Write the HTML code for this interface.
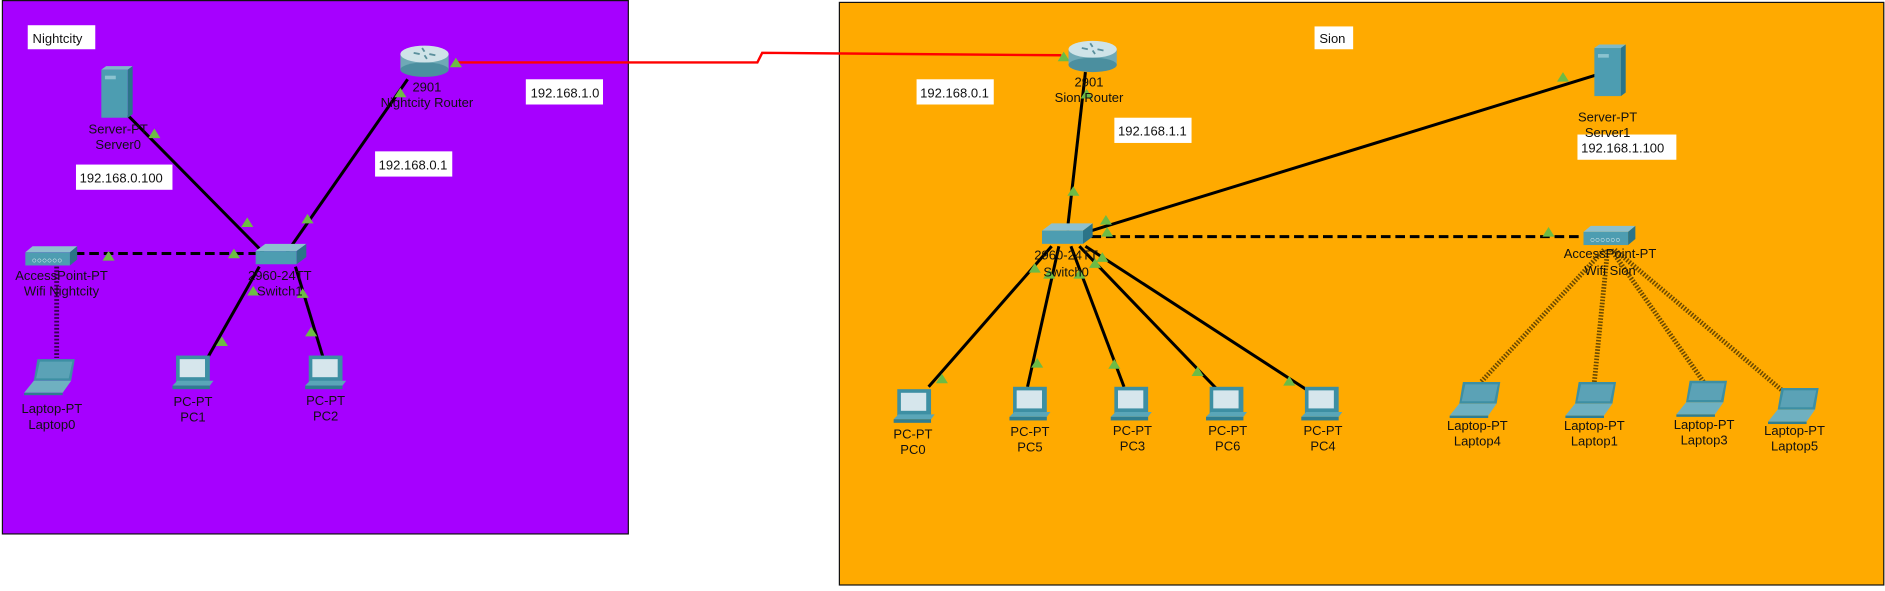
<!DOCTYPE html>
<html><head><meta charset="utf-8"><style>
html,body{margin:0;padding:0;background:#fff;}
svg{display:block;}
text{font-family:"Liberation Sans",Arial,sans-serif;font-size:10.8px;fill:#111;}
</style></head><body>
<svg width="1885" height="591" viewBox="0 0 1563 492" preserveAspectRatio="none" xmlns="http://www.w3.org/2000/svg">
<defs>
<g id="tri"><polygon points="0,-5 5,3 -5,3" fill="#6dbb45"/></g>
<g id="pc">
 <rect x="-14" y="-15" width="28" height="22" fill="#3d8fa3"/>
 <rect x="-11" y="-12" width="21" height="15" fill="#d6e6ec"/>
 <polygon points="-17,10 14,10 17,6 -13,6" fill="#5aa6b8"/>
 <rect x="-17" y="10" width="31" height="3" fill="#2f7d90"/>
</g>
<g id="laptop">
 <polygon points="-11,-16 20,-16 17,2 -14,2" fill="#3d8fa3"/>
 <polygon points="-9,-14 18,-14 15,0 -12,0" fill="#5ba2b6"/>
 <polygon points="-14,2 17,2 10,12 -22,12" fill="#6fb0c0"/>
 <rect x="-22" y="12" width="32" height="2" fill="#2f7d90"/>
</g>
<g id="server">
 <polygon points="-12,-20 10,-20 14,-23 -8,-23" fill="#7fb9c8"/>
 <rect x="-12" y="-20" width="22" height="40" fill="#4d9db1"/>
 <polygon points="10,-20 14,-23 14,17 10,20" fill="#2b7488"/>
 <rect x="-9" y="-15" width="9" height="3" fill="#8cc3d0"/>
</g>
<g id="switch">
 <polygon points="-20,-4 -12,-10 22,-10 14,-4" fill="#8ec0cf"/>
 <rect x="-20" y="-4" width="34" height="11" fill="#4d9db1"/>
 <polygon points="14,-4 22,-10 22,1 14,7" fill="#2b7488"/>
</g>
<g id="ap">
 <polygon points="-21,-4 -15,-9 22,-9 16,-4" fill="#8ec0cf"/>
 <rect x="-21" y="-4" width="37" height="11" fill="#4d9db1"/>
 <polygon points="16,-4 22,-9 22,2 16,7" fill="#2b7488"/>
 <text x="-3" y="5" text-anchor="middle" style="font-size:7px;fill:#e8f3f6">○○○○○○</text>
</g>
<g id="router">
 <rect x="-20" y="-6" width="40" height="13" fill="#6fa9b6"/>
 <ellipse cx="0" cy="7" rx="20" ry="6" fill="#4b8f9f"/>
 <ellipse cx="0" cy="-6" rx="20" ry="7" fill="#cfe3e8"/>
 <path d="M-9,-7 l5,1 M9,-5 l-5,-1 M-2,-11 l2,3 M2,-2 l-2,-3" stroke="#5a8f9c" stroke-width="1.5"/>
</g>
</defs>

<rect x="2" y="0.5" width="519" height="444" fill="#a600ff" stroke="#111" stroke-width="1"/>
<rect x="696" y="2" width="866" height="485" fill="#ffaa00" stroke="#111" stroke-width="1"/>

<polyline points="378,52 628,52 632,44 880,46" fill="none" stroke="#ff0000" stroke-width="2"/>

<g stroke="#000" stroke-width="2.5" fill="none">
 <line x1="106" y1="96" x2="222" y2="214"/>
 <line x1="338" y1="66" x2="238" y2="210"/>
 <line x1="215" y1="222" x2="172" y2="298"/>
 <line x1="245" y1="222" x2="268" y2="298"/>
 <line x1="62" y1="211" x2="212" y2="211" stroke-dasharray="8,4"/>
 <line x1="47" y1="222" x2="47" y2="298" stroke="#3a0050" stroke-width="4" stroke-dasharray="1.5,1.5"/>
</g>
<g stroke="#000" stroke-width="2.5" fill="none">
 <line x1="900" y1="60" x2="885" y2="192"/>
 <line x1="905" y1="192" x2="1325" y2="62"/>
 <line x1="905" y1="197" x2="1312" y2="197" stroke-dasharray="8,4"/>
 <line x1="872" y1="205" x2="770" y2="322"/>
 <line x1="878" y1="205" x2="852" y2="322"/>
 <line x1="888" y1="205" x2="932" y2="322"/>
 <line x1="895" y1="205" x2="1010" y2="325"/>
 <line x1="900" y1="205" x2="1092" y2="330"/>
</g>
<g stroke="#6b4a00" stroke-width="4" stroke-dasharray="1.3,1.3" fill="none">
 <line x1="1330" y1="208" x2="1228" y2="318"/>
 <line x1="1333" y1="208" x2="1322" y2="318"/>
 <line x1="1336" y1="208" x2="1414" y2="320"/>
 <line x1="1339" y1="208" x2="1480" y2="327"/>
</g>

<use href="#tri" x="128" y="112"/><use href="#tri" x="205" y="186"/>
<use href="#tri" x="332" y="78"/><use href="#tri" x="255" y="183"/>
<use href="#tri" x="378" y="53"/>
<use href="#tri" x="90" y="214"/><use href="#tri" x="194" y="212"/>
<use href="#tri" x="210" y="243"/><use href="#tri" x="184" y="285"/>
<use href="#tri" x="251" y="245"/><use href="#tri" x="258" y="277"/>
<use href="#tri" x="882" y="48"/>
<use href="#tri" x="901" y="79"/><use href="#tri" x="890" y="160"/>
<use href="#tri" x="1296" y="65"/><use href="#tri" x="917" y="184"/>
<use href="#tri" x="918" y="194"/><use href="#tri" x="1284" y="194"/>
<use href="#tri" x="858" y="224"/><use href="#tri" x="781" y="316"/>
<use href="#tri" x="870" y="229"/><use href="#tri" x="860" y="303"/>
<use href="#tri" x="895" y="229"/><use href="#tri" x="924" y="304"/>
<use href="#tri" x="908" y="220"/><use href="#tri" x="993" y="310"/>
<use href="#tri" x="914" y="215"/><use href="#tri" x="1069" y="318"/>

<use href="#server" x="96" y="78"/>
<use href="#router" x="352" y="51"/>
<use href="#switch" x="232" y="213"/>
<use href="#ap" x="42" y="214"/>
<use href="#laptop" x="42" y="315"/>
<use href="#pc" x="160" y="311"/>
<use href="#pc" x="270" y="311"/>

<use href="#router" x="906" y="47"/>
<use href="#server" x="1334" y="60"/>
<use href="#switch" x="884" y="196"/>
<use href="#ap" x="1334" y="197"/>
<use href="#pc" x="758" y="339"/>
<use href="#pc" x="854" y="337"/>
<use href="#pc" x="938" y="337"/>
<use href="#pc" x="1017" y="337"/>
<use href="#pc" x="1096" y="337"/>
<use href="#laptop" x="1224" y="334"/>
<use href="#laptop" x="1320" y="334"/>
<use href="#laptop" x="1412" y="333"/>
<use href="#laptop" x="1488" y="339"/>

<g fill="#fff">
 <rect x="23" y="21" width="56" height="20"/>
 <rect x="436" y="66" width="64" height="21"/>
 <rect x="311" y="126" width="64" height="21"/>
 <rect x="63" y="137" width="80" height="21"/>
 <rect x="1090" y="22" width="32" height="19"/>
 <rect x="760" y="66" width="64" height="21"/>
 <rect x="924" y="98" width="64" height="21"/>
 <rect x="1308" y="112" width="82" height="21"/>
</g>
<text x="27" y="36">Nightcity</text>
<text x="440" y="81">192.168.1.0</text>
<text x="314" y="141">192.168.0.1</text>
<text x="66" y="152">192.168.0.100</text>
<text x="1094" y="36">Sion</text>
<text x="763" y="81">192.168.0.1</text>
<text x="927" y="113">192.168.1.1</text>
<text x="1311" y="127">192.168.1.100</text>

<g text-anchor="middle">
 <text x="98" y="111">Server-PT</text><text x="98" y="124">Server0</text>
 <text x="354" y="76">2901</text><text x="354" y="89">Nightcity Router</text>
 <text x="232" y="233">2960-24TT</text><text x="232" y="246">Switch1</text>
 <text x="51" y="233">AccessPoint-PT</text><text x="51" y="246">Wifi Nightcity</text>
 <text x="43" y="344">Laptop-PT</text><text x="43" y="357">Laptop0</text>
 <text x="160" y="338">PC-PT</text><text x="160" y="351">PC1</text>
 <text x="270" y="337">PC-PT</text><text x="270" y="350">PC2</text>

 <text x="903" y="72">2901</text><text x="903" y="85">Sion Router</text>
 <text x="1333" y="101">Server-PT</text><text x="1333" y="114">Server1</text>
 <text x="884" y="216">2960-24TT</text><text x="884" y="230">Switch0</text>
 <text x="1335" y="215">AccessPoint-PT</text><text x="1335" y="229">Wifi Sion</text>
 <text x="757" y="365">PC-PT</text><text x="757" y="378">PC0</text>
 <text x="854" y="363">PC-PT</text><text x="854" y="376">PC5</text>
 <text x="939" y="362">PC-PT</text><text x="939" y="375">PC3</text>
 <text x="1018" y="362">PC-PT</text><text x="1018" y="375">PC6</text>
 <text x="1097" y="362">PC-PT</text><text x="1097" y="375">PC4</text>
 <text x="1225" y="358">Laptop-PT</text><text x="1225" y="371">Laptop4</text>
 <text x="1322" y="358">Laptop-PT</text><text x="1322" y="371">Laptop1</text>
 <text x="1413" y="357">Laptop-PT</text><text x="1413" y="370">Laptop3</text>
 <text x="1488" y="362">Laptop-PT</text><text x="1488" y="375">Laptop5</text>
</g>
</svg>
</body></html>
